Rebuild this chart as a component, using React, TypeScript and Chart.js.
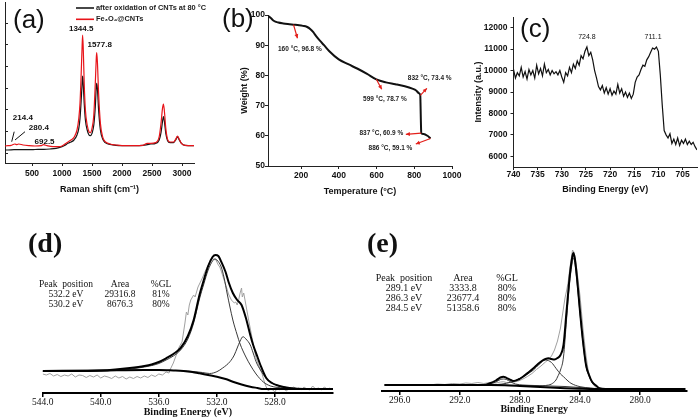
import React, { useEffect, useRef } from "react";
import { Chart, registerables } from "chart.js";

Chart.register(...registerables);

const SANS = "'Liberation Sans', Arial, sans-serif";
const SERIF = "'Liberation Serif', 'Times New Roman', serif";

// ---------------- (a) Raman ----------------
const ramanShiftOx = [50,100,200,300,400,500,600,700,800,900,1000,1050,1100,1150,1200,1250,1280,1300,1320,1335,1344,1355,1370,1390,1420,1450,1470,1500,1530,1555,1570,1578,1590,1610,1640,1680,1720,1800,1900,2000,2200,2350,2420,2480,2560,2620,2650,2675,2690,2705,2730,2760,2800,2860,2900,2925,2950,2990,3050,3200];
const ramanIntensityOx = [39,39,40,40,40,40,41,41,42,44,49,53,59,63,69,84,104,134,189,239,261,234,179,129,99,84,82,89,114,169,224,239,224,159,99,71,61,56,53,52,52,53,55,57,59,69,91,124,139,127,89,67,61,61,71,79,71,59,53,52];
const ramanShiftFe = [50,100,150,214,250,280,350,450,550,650,692,750,850,950,1000,1050,1100,1150,1200,1250,1280,1300,1320,1335,1344,1355,1370,1390,1420,1450,1470,1500,1530,1555,1570,1578,1590,1610,1640,1680,1720,1800,1900,2000,2200,2350,2420,2480,2560,2620,2650,2675,2690,2705,2730,2760,2800,2860,2900,2925,2950,2990,3050,3200];
const ramanIntensityFe = [51,52,53,57,55,57,54,52,51,52,55,52,49,49,51,57,63,69,77,99,134,179,269,349,384,339,239,159,114,94,91,104,144,239,309,331,304,209,119,77,64,57,54,52,52,53,59,59,61,79,119,164,177,159,104,71,63,63,73,81,73,59,53,52];
const ramanXTicks = [500,1000,1500,2000,2500,3000];
const ramanYTicks = [29,94,159,224,289,354,419];
const ramanLegend = ["after oxidation of CNTs at 80 °C", "Fe₃O₄@CNTs"];
const ramanPeaks = [1344.5, 1577.8, 214.4, 280.4, 692.5];

// ---------------- (b) TGA ----------------
const tgaTemperature = [25,40,55,80,106,130,160,190,210,230,250,265,280,300,322,350,400,450,500,550,599,650,700,750,790,810,825,832,833,834,835,836,837,850,870,886];
const tgaWeight = [99.7,99.0,98.1,97.5,97.2,97.0,96.8,96.6,96.4,96.1,95.3,94.3,93.0,91.5,90.0,88.0,85.3,83.7,82.2,80.5,78.7,77.7,77.1,76.4,75.6,75.0,74.1,73.4,71.0,68.0,65.0,62.5,60.9,60.6,60.0,59.1];
const tgaXTicks = [200,400,600,800,1000];
const tgaYTicks = [50,60,70,80,90,100];
const tgaMarkTemp = [160, 599, 832, 837, 886];
const tgaMarkWeight = [96.8, 78.7, 73.4, 60.9, 59.1];

// ---------------- (c) Fe 2p XPS ----------------
const feBinding = [740.0,739.6,739.2,738.8,738.4,738.0,737.6,737.2,736.8,736.4,736.0,735.6,735.2,734.8,734.4,734.0,733.6,733.2,732.8,732.4,732.0,731.6,731.2,730.8,730.4,730.0,729.6,729.2,728.8,728.4,728.0,727.6,727.2,726.8,726.4,726.0,725.6,725.2,724.8,724.4,724.0,723.6,723.2,722.8,722.4,722.0,721.6,721.2,720.8,720.4,720.0,719.6,719.2,718.8,718.4,718.0,717.6,717.2,716.8,716.4,716.0,715.6,715.2,714.8,714.4,714.0,713.6,713.2,712.8,712.4,712.0,711.6,711.2,710.8,710.4,710.0,709.6,709.2,708.8,708.4,708.0,707.6,707.2,706.8,706.4,706.0,705.6,705.2,704.8,704.4,704.0,703.6,703.2,702.8,702.4,702.0];
const feIntensity = [10050,9650,9900,9750,10150,9700,9950,9600,10050,9800,10000,9650,10250,9850,10100,9750,10300,9900,10050,9800,10000,9850,9950,9800,10000,9700,9450,9900,9750,10150,9900,10300,10100,10450,10250,10700,10550,10900,11100,10700,10850,10500,10000,9650,9250,9100,9300,8950,9200,8900,9150,8850,9050,8900,9350,8950,9150,8800,9000,8750,8950,8700,8900,9450,9700,9800,10050,10250,10200,10500,10650,10850,11050,11000,11100,10900,9800,8400,7200,7000,6850,7050,6600,6800,6550,6850,6500,6750,6600,6800,6550,6700,6550,6650,6450,6300];
const feXTicks = [740,735,730,725,720,715,710,705];
const feYTicks = [6000,7000,8000,9000,10000,11000,12000];
const fePeaks = [724.8, 711.1];

// ---------------- (d) O 1s XPS ----------------
const oRawE = [544.0,543.75,543.5,543.25,543.0,542.75,542.5,542.25,542.0,541.75,541.5,541.25,541.0,540.75,540.5,540.25,540.0,539.75,539.5,539.25,539.0,538.75,538.5,538.25,538.0,537.75,537.5,537.25,537.0,536.75,536.5,536.25,536.0,535.75,535.5,535.3,535.2,535.0,534.8,534.6,534.4,534.2,534.1,534.0,533.9,533.8,533.6,533.5,533.3,533.1,533.0,532.8,532.6,532.4,532.3,532.2,532.1,532.0,531.9,531.8,531.7,531.5,531.3,531.2,531.0,530.8,530.7,530.6,530.5,530.4,530.3,530.25,530.15,530.05,529.9,529.8,529.6,529.45,529.3,529.1,528.9,528.75,528.6,528.45,528.3,528.15,528.0,527.85,527.7,527.55,527.4,527.2,527.05,526.9,526.7,526.5,526.35,526.2,526.0,525.8,525.6,525.4,525.2,525.0,524.8,524.6,524.4,524.2];
const oRaw = [19,18,19.5,17,18.5,16.5,18,17,19,16,18,17.5,15.5,17.5,16,18,15,17,16,14.5,17,15,16.5,14,16,14.5,16.5,15,17,15.5,18,16.5,19,18,21,20,24,30,38,46,51,70,81,78,88,93,98,96,106,112,115,122,128,132,135,133,134,131,128,126,122,113,104,99,93,90,91,88,93,100,105,96,100,92,80,72,57,46,35,27,20,12,6,2,5,3,1,5,3,6,4,2,5,4,6,4,5,3,6,4,3,7,4,5,3,6,4,5];
const oEnvelopeE = [544,542,540,539,538,537,536.5,536,535.5,535,534.5,534,533.6,533.2,532.9,532.6,532.3,532.1,531.9,531.7,531.4,531.2,530.9,530.6,530.3,530.0,529.7,529.5,529.2,529.0,528.6,528.2,527.9,527.4,527.0,526,524];
const oEnvelope = [22,22,22.5,23.5,25,27,28.5,31,34.7,39,45,57,73,98,113,127,136,138,137,131.3,121,111.3,100,93,88,75,58,48,36,28,15,10,8,6,5,4,4];
const oComp1E = [544,540,538,537,536,535.5,535,534.5,534,533.6,533.2,532.9,532.6,532.3,532.15,532.0,531.7,531.5,531.3,531.1,530.9,530.6,530.4,530.0,529.7,529.3,528.8,528.3,527.4,526,524];
const oComp1 = [21.5,22,24,26,29.5,33,37,43,54,70,94,109,123,132,134,133,126,115,100,86,73,58,49,36,28,19,11,7,5,4,4];
const oComp2E = [544,540,537,535,534,533,532.5,532.0,531.6,531.1,530.8,530.6,530.4,530.2,530.0,529.7,529.5,529.3,529.0,528.6,528.2,527.4,526,524];
const oComp2 = [22,22.5,23,22.5,22,20.5,19.5,21.3,25,31.3,38,45,52,56.3,54,48,40,31.3,23,14.7,10,6,4,4];
const oBackgroundE = [544,540,537,536,535,534.3,533.7,533.2,532.6,532.0,531.4,530.9,530.3,529.7,529.2,528.8,528,524];
const oBackground = [22,22.5,23,23,22.5,22,21,19.7,18,16.3,14,11.3,8.5,6.3,5,4,4,4];
const oXTicks = [544,540,536,532,528];
const oPeakPos = [532.2, 530.2];
const oPeakArea = [29316.8, 8676.3];
const oPeakGL = [81, 80];

// ---------------- (e) C 1s XPS ----------------
const cRawE = [297,296.5,296,295.5,295,294.5,294,293.5,293,292.5,292,291.6,291.2,290.8,290.4,290.0,289.6,289.3,289.1,288.9,288.7,288.4,288.1,287.8,287.5,287.2,286.9,286.6,286.3,286.1,285.9,285.7,285.5,285.3,285.15,285.0,284.9,284.8,284.7,284.6,284.5,284.4,284.3,284.2,284.0,283.8,283.6,283.45,283.3,283.1,282.9,282.7,282.4,282,281.5,281,280,279,278,277];
const cRaw = [6,6.5,6,6.5,6,6.5,6,7,6.5,7.5,7,8,7.5,8.5,7.5,8.5,8,9,9.3,8.5,8.5,9,10,12,14.5,17.5,21.5,25,29,31.5,35,41,50,63,78,93,100,108,120,131,141,139,130,120,95,62,35,20,12,6,3,2,2.5,2,2.5,2,2,2.5,2,2];
const cEnvelopeE = [297,294,291,290.4,290.0,289.6,289.3,289.1,288.9,288.6,288.4,288.1,287.8,287.4,287.1,286.8,286.5,286.3,286.1,285.9,285.7,285.5,285.3,285.1,284.9,284.7,284.55,284.45,284.35,284.2,284.0,283.8,283.6,283.4,283.2,282.9,282.7,282.3,281,277];
const cEnvelope = [6,6,6,6,7.7,10.5,13.5,14.3,13.2,11,10,11.5,14.3,19,22.7,27,30.5,32,32.7,32,31.5,33,36,46,79.3,113,131,138,133,113,79.3,49.3,26,16,9.3,5,2.7,2,2,2];
const cComp3E = [297,290,288,287.1,286.7,286.3,285.9,285.6,285.5,285.3,285.1,284.9,284.7,284.55,284.45,284.35,284.2,284.0,283.8,283.6,283.4,283.2,282.9,282.7,282.3,277];
const cComp3 = [6,6,5.5,5.5,5,5.5,7,11,14,21,34,71,107,125.5,133,128.5,109,77.3,47.7,24.7,15,8.5,4.5,2.7,2,2];
const cComp2E = [297,290.4,289.5,288.9,288.4,288.0,287.5,287.1,286.7,286.3,285.9,285.6,285.3,285.1,284.8,284.6,284.0,283.3,282.5,277];
const cComp2 = [6,6,6.5,7.7,10,12.7,17,21,27,31,28.5,22.7,17,14.3,10,7.7,4.3,3,2,2];
const cComp1E = [297,290.5,290.0,289.6,289.3,289.1,288.9,288.6,288.3,287.8,287,286,285,284,283,282,277];
const cComp1 = [6,6,7,9,11.5,12,11.5,9,7,6,5.5,5,4.5,3.5,2.3,2,2];
const cBackgroundE = [297,290,289,288,287,286,285,284,283,277];
const cBackground = [6,6,5.8,5.1,4.3,3.5,2.8,2.3,2,2];
const cXTicks = [296,292,288,284,280];
const cPeakPos = [289.1, 286.3, 284.5];
const cPeakArea = [3333.8, 23677.4, 51358.6];
const cPeakGL = [80, 80, 80];

// ---------------- helpers ----------------
const pts = (xs: number[], ys: number[]) => xs.map((x, i) => ({ x, y: ys[i] }));
const fixSize = (size: number) => (scale: any) => {
  if (scale.isHorizontal()) scale.height = size;
  else scale.width = size;
  scale.paddingLeft = 0;
  scale.paddingRight = 0;
  scale.paddingTop = 0;
  scale.paddingBottom = 0;
};
const setTicks = (values: number[]) => (scale: any) => {
  scale.ticks = values.map((v) => ({ value: v }));
};

function text(ctx: CanvasRenderingContext2D, s: string, x: number, y: number, font: string, color = "#111", align: CanvasTextAlign = "center", baseline: CanvasTextBaseline = "middle") {
  ctx.save();
  ctx.font = font;
  ctx.fillStyle = color;
  ctx.textAlign = align;
  ctx.textBaseline = baseline;
  ctx.fillText(s, x, y);
  ctx.restore();
}
function line(ctx: CanvasRenderingContext2D, x1: number, y1: number, x2: number, y2: number, color: string, w: number) {
  ctx.save();
  ctx.strokeStyle = color;
  ctx.lineWidth = w;
  ctx.beginPath();
  ctx.moveTo(x1, y1);
  ctx.lineTo(x2, y2);
  ctx.stroke();
  ctx.restore();
}
function arrow(ctx: CanvasRenderingContext2D, x1: number, y1: number, x2: number, y2: number, color: string) {
  line(ctx, x1, y1, x2, y2, color, 1.2);
  const a = Math.atan2(y2 - y1, x2 - x1);
  const h = 4.5;
  ctx.save();
  ctx.fillStyle = color;
  ctx.beginPath();
  ctx.moveTo(x2, y2);
  ctx.lineTo(x2 - h * Math.cos(a - 0.45), y2 - h * Math.sin(a - 0.45));
  ctx.lineTo(x2 - h * Math.cos(a + 0.45), y2 - h * Math.sin(a + 0.45));
  ctx.closePath();
  ctx.fill();
  ctx.restore();
}

const common = {
  animation: false as const,
  responsive: false,
  devicePixelRatio: 1,
  events: [] as any[],
  plugins: { legend: { display: false }, tooltip: { enabled: false } },
};

const sansTick = (size: number, bold = true) => ({ family: SANS, size, weight: bold ? ("bold" as const) : ("normal" as const) });

// ---------------- chart factories ----------------
function makeA(canvas: HTMLCanvasElement) {
  const annot = {
    id: "annA",
    afterDraw(chart: any) {
      const ctx = chart.ctx as CanvasRenderingContext2D;
      const xs = chart.scales.x;
      text(ctx, "(a)", 13, 21, `26px ${SANS}`, "#111", "left");
      line(ctx, 76, 8, 94, 8, "#333", 1.8);
      line(ctx, 76, 19.3, 94, 19.3, "#e8141a", 1.6);
      text(ctx, ramanLegend[0], 96, 8, `bold 7.4px ${SANS}`, "#222", "left");
      text(ctx, ramanLegend[1], 96, 19.3, `bold 7.4px ${SANS}`, "#222", "left");
      const f = `bold 8px ${SANS}`;
      const lab = ramanPeaks.map((v) => v.toFixed(1));
      const off = [[-1.5, 29], [3, 45], [8, 118], [20, 128], [1, 142]];
      ramanPeaks.forEach((v, i) => text(ctx, lab[i], xs.getPixelForValue(v) + off[i][0], off[i][1], f, "#111"));
      line(ctx, 11.7, 141.7, 14.2, 131.7, "#111", 1);
      line(ctx, 15, 140, 25, 131.7, "#111", 1);
    },
  };
  return new Chart(canvas, {
    type: "line",
    data: {
      datasets: [
        { data: pts(ramanShiftFe, ramanIntensityFe), borderColor: "#e8141a", borderWidth: 1.2, pointRadius: 0, cubicInterpolationMode: "monotone" },
        { data: pts(ramanShiftOx, ramanIntensityOx), borderColor: "#151515", borderWidth: 1.2, pointRadius: 0, cubicInterpolationMode: "monotone" },
      ],
    },
    options: {
      ...common,
      layout: { padding: { left: 5, top: 2, right: 506, bottom: 420 - 163 - 32.4 } },
      scales: {
        x: {
          type: "linear", min: 50, max: 3200,
          afterBuildTicks: setTicks(ramanXTicks), afterFit: fixSize(32.4),
          border: { display: true, color: "#222", width: 1 },
          grid: { drawOnChartArea: false, drawTicks: true, tickLength: 3, color: "#222" },
          ticks: { font: sansTick(8.5), color: "#111", padding: 2.5, maxRotation: 0, autoSkip: false, callback: (v: any) => String(v) },
          title: { display: true, text: "Raman shift (cm⁻¹)", font: sansTick(9), color: "#111", padding: 0 },
        },
        y: {
          type: "linear", min: 0, max: 483,
          afterBuildTicks: setTicks(ramanYTicks), afterFit: fixSize(0),
          border: { display: true, color: "#222", width: 1 },
          grid: { drawOnChartArea: false, drawTicks: true, tickLength: -3, color: "#222" },
          ticks: { display: false },
        },
      },
    } as any,
    plugins: [annot],
  });
}

function makeB(canvas: HTMLCanvasElement) {
  const arrowLayout = [
    { ax: 4, ay: 13.6, lx: 6.4, ly: 24.3, align: "center" },
    { ax: 5.4, ay: 10, lx: 8.6, ly: 19.7, align: "center" },
    { ax: 6.6, ay: -7, lx: 9.4, ly: -17.3, align: "center" },
    { ax: -15.4, ay: 1.2, lx: -18, ly: 0, align: "right" },
    { ax: -14.7, ay: 5.5, lx: -40, ly: 9.5, align: "center" },
  ];
  const annot = {
    id: "annB",
    afterDraw(chart: any) {
      const ctx = chart.ctx as CanvasRenderingContext2D;
      const xs = chart.scales.x, ys = chart.scales.y;
      text(ctx, "(b)", 222, 20, `26px ${SANS}`, "#111", "left");
      tgaMarkTemp.forEach((t, i) => {
        const px = xs.getPixelForValue(t), py = ys.getPixelForValue(tgaMarkWeight[i]);
        const L = arrowLayout[i];
        arrow(ctx, px, py, px + L.ax, py + L.ay, "#e3201b");
        text(ctx, `${t} °C, ${tgaMarkWeight[i].toFixed(1)} %`, px + L.lx, py + L.ly, `bold 6.5px ${SANS}`, "#222", L.align as CanvasTextAlign);
      });
    },
  };
  return new Chart(canvas, {
    type: "line",
    data: { datasets: [{ data: pts(tgaTemperature, tgaWeight), borderColor: "#111", borderWidth: 2, pointRadius: 0, cubicInterpolationMode: "monotone" }] },
    options: {
      ...common,
      layout: { padding: { left: 268 - 28.4, top: 15, right: 700 - 452, bottom: 420 - 166 - 31.4 } },
      scales: {
        x: {
          type: "linear", min: 25, max: 1000,
          afterBuildTicks: setTicks(tgaXTicks), afterFit: fixSize(31.4),
          border: { display: true, color: "#222", width: 1 },
          grid: { drawOnChartArea: false, drawTicks: true, tickLength: 3, color: "#222" },
          ticks: { font: sansTick(8.5), color: "#111", padding: 2, maxRotation: 0, autoSkip: false, callback: (v: any) => String(v) },
          title: { display: true, text: "Temperature (°C)", font: sansTick(9), color: "#111", padding: 0 },
        },
        y: {
          type: "linear", min: 50, max: 100,
          afterBuildTicks: setTicks(tgaYTicks), afterFit: fixSize(28.4),
          border: { display: true, color: "#222", width: 1 },
          grid: { drawOnChartArea: false, drawTicks: true, tickLength: 3, color: "#222" },
          ticks: { font: sansTick(8.5), color: "#111", padding: 0, callback: (v: any) => String(v) },
          title: { display: true, text: "Weight (%)", font: sansTick(9), color: "#111", padding: 0 },
        },
      },
    } as any,
    plugins: [annot],
  });
}

function makeC(canvas: HTMLCanvasElement) {
  const annot = {
    id: "annC",
    afterDraw(chart: any) {
      const ctx = chart.ctx as CanvasRenderingContext2D;
      const xs = chart.scales.x, ys = chart.scales.y;
      text(ctx, "(c)", 520, 30, `26px ${SANS}`, "#111", "left");
      fePeaks.forEach((p) => text(ctx, p.toFixed(1), xs.getPixelForValue(p), ys.getPixelForValue(11550), `7px ${SANS}`, "#111"));
    },
  };
  return new Chart(canvas, {
    type: "line",
    data: { datasets: [{ data: pts(feBinding, feIntensity), borderColor: "#111", borderWidth: 1.2, pointRadius: 0, tension: 0 }] },
    options: {
      ...common,
      layout: { padding: { left: 513.5 - 40, top: 17, right: 3, bottom: 420 - 167 - 28.4 } },
      scales: {
        x: {
          type: "linear", min: 702, max: 740, reverse: true,
          afterBuildTicks: setTicks(feXTicks), afterFit: fixSize(28.4),
          border: { display: true, color: "#222", width: 1 },
          grid: { drawOnChartArea: false, drawTicks: true, tickLength: 3, color: "#222" },
          ticks: { font: sansTick(8.5), color: "#111", padding: 0, maxRotation: 0, autoSkip: false, callback: (v: any) => String(v) },
          title: { display: true, text: "Binding Energy (eV)", font: sansTick(9), color: "#111", padding: 0 },
        },
        y: {
          type: "linear", min: 5500, max: 12500,
          afterBuildTicks: setTicks(feYTicks), afterFit: fixSize(40),
          border: { display: true, color: "#222", width: 1 },
          grid: { drawOnChartArea: false, drawTicks: true, tickLength: 3, color: "#222" },
          ticks: { font: sansTick(8.5), color: "#111", padding: 3, callback: (v: any) => String(v) },
          title: { display: true, text: "Intensity (a.u.)", font: sansTick(9), color: "#111", padding: 0 },
        },
      },
    } as any,
    plugins: [annot],
  });
}

function xpsDatasets(env: any, bg: any, comps: any[], raw: any) {
  return [
    { data: env, borderColor: "#000", borderWidth: 2, pointRadius: 0, cubicInterpolationMode: "monotone" },
    { data: bg, borderColor: "#000", borderWidth: 2, pointRadius: 0, cubicInterpolationMode: "monotone" },
    ...comps.map((c) => ({ data: c, borderColor: "#3a3a3a", borderWidth: 1, pointRadius: 0, cubicInterpolationMode: "monotone" })),
    { data: raw, borderColor: "#a0a0a0", borderWidth: 1, pointRadius: 0, tension: 0 },
  ];
}

function xpsOptions(padding: any, min: number, max: number, ticks: number[], title: string, xH: number) {
  return {
    ...common,
    layout: { padding },
    scales: {
      x: {
        type: "linear", min, max, reverse: true,
        afterBuildTicks: setTicks(ticks), afterFit: fixSize(xH),
        border: { display: true, color: "#000", width: 2 },
        grid: { drawOnChartArea: false, drawTicks: true, tickLength: 4, color: "#000", lineWidth: 1.5 },
        ticks: { font: { family: SERIF, size: 9.5 }, color: "#111", padding: 0, maxRotation: 0, autoSkip: false, callback: (v: any) => Number(v).toFixed(1) },
        title: { display: true, text: title, font: { family: SERIF, size: 10, weight: "bold" }, color: "#111", padding: 0 },
      },
      y: { type: "linear", display: false, min: 0, max: 150 },
    },
  } as any;
}

function tablePlugin(id: string, label: string, lx: number, ly: number, cols: number[], rowsY: number[], fontSize: number, pos: number[], area: number[], gl: number[]) {
  return {
    id,
    afterDraw(chart: any) {
      const ctx = chart.ctx as CanvasRenderingContext2D;
      text(ctx, label, lx, ly, `bold 28px ${SERIF}`, "#111", "left");
      const f = `${fontSize}px ${SERIF}`;
      text(ctx, "Peak  position", cols[0], rowsY[0], f, "#111");
      text(ctx, "Area", cols[1], rowsY[0], f, "#111");
      text(ctx, "%GL", cols[2], rowsY[0], f, "#111");
      pos.forEach((p, i) => {
        text(ctx, `${p.toFixed(1)} eV`, cols[0], rowsY[i + 1], f, "#111");
        text(ctx, area[i].toFixed(1), cols[1], rowsY[i + 1], f, "#111");
        text(ctx, `${gl[i]}%`, cols[2], rowsY[i + 1], f, "#111");
      });
    },
  };
}

function makeD(canvas: HTMLCanvasElement) {
  return new Chart(canvas, {
    type: "line",
    data: {
      datasets: xpsDatasets(pts(oEnvelopeE, oEnvelope), pts(oBackgroundE, oBackground), [pts(oComp1E, oComp1), pts(oComp2E, oComp2)], pts(oRawE, oRaw)) as any,
    },
    options: xpsOptions({ left: 42.7, top: 243, right: 367, bottom: 420 - 393 - 25.3 }, 524, 544, oXTicks, "Binding Energy (eV)", 25.3),
    plugins: [tablePlugin("annD", "(d)", 28, 245, [66, 120, 161], [284.5, 294.5, 304.5], 9.5, oPeakPos, oPeakArea, oPeakGL)],
  });
}

function makeE(canvas: HTMLCanvasElement) {
  return new Chart(canvas, {
    type: "line",
    data: {
      datasets: xpsDatasets(pts(cEnvelopeE, cEnvelope), pts(cBackgroundE, cBackground), [pts(cComp3E, cComp3), pts(cComp2E, cComp2), pts(cComp1E, cComp1)], pts(cRawE, cRaw)) as any,
    },
    options: xpsOptions({ left: 381.7, top: 241, right: 700 - 686.7, bottom: 420 - 391 - 24.3 }, 276.9, 297.2, cXTicks, "Binding Energy", 24.3),
    plugins: [tablePlugin("annE", "(e)", 367, 245, [404, 463, 507], [278.5, 288.5, 298.3, 308.3], 10, cPeakPos, cPeakArea, cPeakGL)],
  });
}

function Panel({ make }: { make: (c: HTMLCanvasElement) => Chart }) {
  const ref = useRef<HTMLCanvasElement>(null);
  useEffect(() => {
    const chart = make(ref.current!);
    return () => chart.destroy();
  }, [make]);
  return <canvas ref={ref} width={700} height={420} style={{ position: "absolute", left: 0, top: 0, width: 700, height: 420 }} />;
}

export default function App() {
  return (
    <div style={{ position: "fixed", left: 0, top: 0, width: 700, height: 420, background: "#fff", overflow: "hidden" }}>
      <Panel make={makeA} />
      <Panel make={makeB} />
      <Panel make={makeC} />
      <Panel make={makeD} />
      <Panel make={makeE} />
    </div>
  );
}
